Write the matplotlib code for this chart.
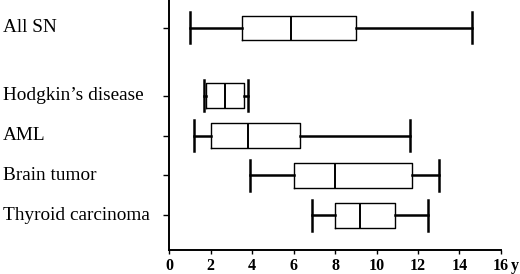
import matplotlib
matplotlib.use("Agg")
import matplotlib.pyplot as plt
import matplotlib.transforms as mtransforms

# ---------------------------------------------------------------------------
# Data (years)
# ---------------------------------------------------------------------------
categories = ["All SN", "Hodgkin\u2019s disease", "AML", "Brain tumor", "Thyroid carcinoma"]
whislo = [1.0, 1.7, 1.2, 3.9, 6.9]
q1 = [3.5, 1.8, 2.0, 6.0, 8.0]
median = [5.9, 2.7, 3.8, 8.0, 9.2]
q3 = [9.0, 3.6, 6.3, 11.7, 10.9]
whishi = [14.6, 3.8, 11.6, 13.0, 12.5]
xticks = [0, 2, 4, 6, 8, 10, 12, 14, 16]

# row positions (All SN set apart from the rest)
ypos = [4.7, 3, 2, 1, 0]

plt.rcParams["font.family"] = ["Liberation Serif", "DejaVu Serif"]

fig = plt.figure(figsize=(5.2, 2.74), dpi=100)
ax = fig.add_axes([169 / 520, 24 / 274, 332 / 520, 250 / 274])

stats = [
    {"label": c, "whislo": lo, "q1": a, "med": m, "q3": b, "whishi": hi, "fliers": []}
    for c, lo, a, m, b, hi in zip(categories, whislo, q1, median, q3, whishi)
]
ax.bxp(
    stats,
    positions=ypos,
    orientation="horizontal",
    widths=0.62,
    capwidths=0.78,
    showfliers=False,
    boxprops=dict(color="black", lw=1.0),
    medianprops=dict(color="black", lw=1.4),
    whiskerprops=dict(color="black", lw=1.8),
    capprops=dict(color="black", lw=1.8),
)

ax.set_xlim(0, 16)
ax.set_ylim(-0.87, 5.4)
ax.set_xticks(xticks)
ax.set_xticklabels([str(t) for t in xticks], fontweight="bold", fontsize=11.5)
ax.set_yticks(ypos)
ax.set_yticklabels([])
ax.tick_params(axis="x", direction="out", length=3, width=1.0, pad=3)
ax.tick_params(axis="y", direction="out", length=4, width=1.0)

for side in ("top", "right"):
    ax.spines[side].set_visible(False)
for side in ("left", "bottom"):
    ax.spines[side].set_linewidth(1.4)

# category labels, left-aligned at the figure edge
trans = mtransforms.blended_transform_factory(fig.transFigure, ax.transData)
for c, y in zip(categories, ypos):
    ax.text(3 / 520, y, c, transform=trans, ha="left", va="center", fontsize=13.9)

# unit after the last tick label
ax.annotate("y", xy=(16, 0), xycoords=("data", "axes fraction"),
            xytext=(7.3, -6), textcoords="offset points",
            ha="left", va="top", fontweight="bold", fontsize=11.5)

fig.savefig("out.png", dpi=100)
